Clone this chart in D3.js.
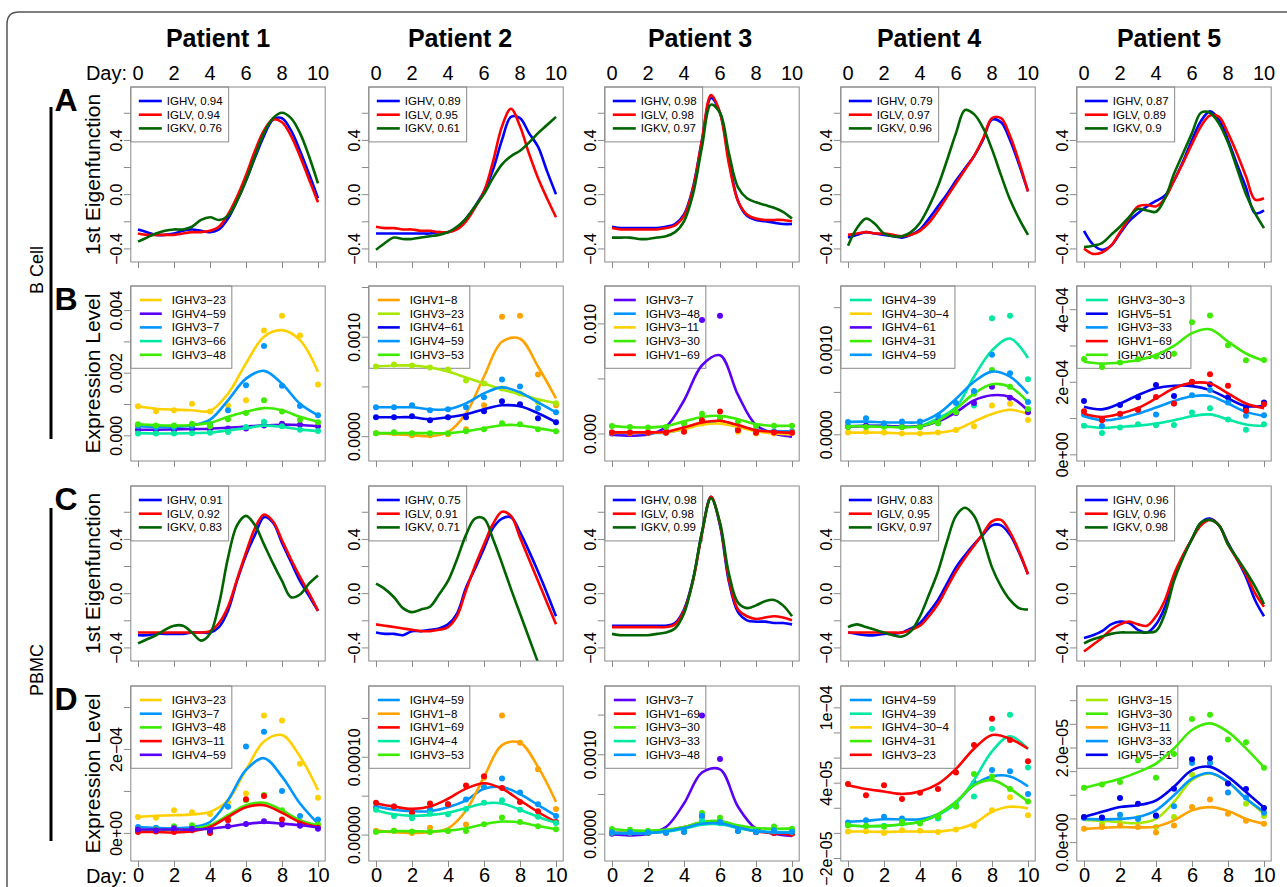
<!DOCTYPE html>
<html>
<head>
<meta charset="utf-8">
<script src="https://cdn.jsdelivr.net/npm/d3@7"></script>
<style>
	body { margin: 0; background: #fff; }
	svg { display: block; font-family: "Liberation Sans", Arial, Helvetica, sans-serif; }
</style>
</head>
<body>
<script>

// 1. Data

const patients = ["Patient 1", "Patient 2", "Patient 3", "Patient 4", "Patient 5"];
const days = d3.range(0, 11);
const halfDays = d3.range(0, 10.01, 0.5);
const dayTicks = [0, 2, 4, 6, 8, 10];

const eigNames = ["IGHV", "IGLV", "IGKV"];
const bEigR = [["0.94", "0.94", "0.76"], ["0.89", "0.95", "0.61"], ["0.98", "0.98", "0.97"], ["0.79", "0.97", "0.96"], ["0.87", "0.89", "0.9"]];
const pEigR = [["0.91", "0.92", "0.83"], ["0.75", "0.91", "0.71"], ["0.98", "0.98", "0.99"], ["0.83", "0.95", "0.97"], ["0.96", "0.96", "0.98"]];

// B cell, 1st eigenfunction (half-day grid)
const bEigIGHV = [
	[-0.26,-0.28,-0.30,-0.30,-0.29,-0.27,-0.26,-0.27,-0.28,-0.26,-0.18,-0.05,0.10,0.27,0.43,0.55,0.56,0.47,0.32,0.15,-0.03],
	[-0.29,-0.29,-0.29,-0.29,-0.29,-0.29,-0.29,-0.28,-0.28,-0.25,-0.18,-0.09,0.02,0.18,0.40,0.57,0.56,0.45,0.35,0.17,0.0],
	[-0.24,-0.25,-0.25,-0.25,-0.25,-0.25,-0.24,-0.22,-0.15,0.05,0.40,0.71,0.60,0.25,-0.05,-0.16,-0.19,-0.20,-0.21,-0.22,-0.22],
	[-0.32,-0.30,-0.28,-0.29,-0.30,-0.31,-0.32,-0.30,-0.26,-0.18,-0.09,0.0,0.10,0.19,0.28,0.40,0.55,0.53,0.40,0.22,0.02],
	[-0.27,-0.37,-0.41,-0.38,-0.29,-0.20,-0.14,-0.09,-0.05,-0.01,0.10,0.24,0.40,0.54,0.61,0.55,0.40,0.22,0.05,-0.14,-0.12]
];
const bEigIGLV = [
	[-0.29,-0.30,-0.30,-0.30,-0.30,-0.29,-0.28,-0.28,-0.27,-0.24,-0.15,-0.02,0.14,0.32,0.47,0.55,0.53,0.43,0.28,0.11,-0.06],
	[-0.24,-0.25,-0.25,-0.26,-0.26,-0.27,-0.27,-0.28,-0.28,-0.26,-0.20,-0.10,0.02,0.24,0.50,0.63,0.50,0.30,0.12,-0.03,-0.17],
	[-0.25,-0.26,-0.26,-0.26,-0.26,-0.26,-0.25,-0.23,-0.16,0.04,0.40,0.73,0.60,0.22,-0.05,-0.15,-0.18,-0.19,-0.19,-0.19,-0.20],
	[-0.30,-0.29,-0.28,-0.29,-0.29,-0.30,-0.31,-0.30,-0.27,-0.21,-0.12,-0.02,0.08,0.18,0.28,0.41,0.56,0.56,0.43,0.24,0.02],
	[-0.40,-0.44,-0.43,-0.38,-0.28,-0.18,-0.09,-0.08,-0.09,-0.03,0.10,0.23,0.37,0.50,0.58,0.57,0.45,0.30,0.13,-0.04,-0.03]
];
const bEigIGKV = [
	[-0.35,-0.32,-0.29,-0.27,-0.26,-0.26,-0.24,-0.19,-0.17,-0.19,-0.16,-0.05,0.10,0.28,0.45,0.56,0.60,0.56,0.45,0.28,0.08],
	[-0.41,-0.36,-0.32,-0.33,-0.33,-0.32,-0.31,-0.30,-0.28,-0.24,-0.18,-0.09,0.0,0.12,0.22,0.28,0.32,0.38,0.45,0.51,0.57],
	[-0.32,-0.32,-0.32,-0.33,-0.33,-0.32,-0.31,-0.28,-0.20,0.0,0.35,0.66,0.60,0.30,0.05,-0.03,-0.06,-0.08,-0.10,-0.13,-0.18],
	[-0.38,-0.25,-0.18,-0.22,-0.29,-0.31,-0.31,-0.28,-0.21,-0.09,0.06,0.25,0.45,0.62,0.59,0.49,0.33,0.14,-0.04,-0.18,-0.30],
	[-0.39,-0.38,-0.36,-0.30,-0.24,-0.17,-0.11,-0.12,-0.13,-0.03,0.15,0.30,0.45,0.60,0.60,0.52,0.38,0.19,0.0,-0.14,-0.25]
];

// PBMC, 1st eigenfunction (half-day grid)
const pEigIGHV = [
	[-0.31,-0.31,-0.30,-0.30,-0.30,-0.30,-0.29,-0.29,-0.29,-0.25,-0.13,0.09,0.28,0.43,0.56,0.52,0.37,0.23,0.09,-0.02,-0.13],
	[-0.29,-0.30,-0.30,-0.31,-0.28,-0.28,-0.27,-0.26,-0.23,-0.15,0.04,0.18,0.33,0.48,0.55,0.56,0.45,0.31,0.16,0.0,-0.17],
	[-0.24,-0.24,-0.24,-0.24,-0.24,-0.24,-0.24,-0.22,-0.12,0.10,0.45,0.71,0.50,0.08,-0.14,-0.20,-0.21,-0.21,-0.22,-0.22,-0.23],
	[-0.29,-0.30,-0.31,-0.31,-0.30,-0.30,-0.29,-0.26,-0.22,-0.14,-0.05,0.07,0.19,0.28,0.36,0.43,0.50,0.50,0.43,0.30,0.14],
	[-0.33,-0.31,-0.28,-0.23,-0.21,-0.22,-0.27,-0.29,-0.23,-0.10,0.12,0.27,0.40,0.52,0.55,0.50,0.37,0.25,0.12,-0.05,-0.17]
];
const pEigIGLV = [
	[-0.29,-0.29,-0.29,-0.29,-0.29,-0.29,-0.29,-0.29,-0.28,-0.22,-0.10,0.10,0.30,0.48,0.58,0.53,0.39,0.25,0.12,0.0,-0.13],
	[-0.23,-0.24,-0.25,-0.26,-0.27,-0.28,-0.28,-0.27,-0.25,-0.17,0.02,0.20,0.36,0.51,0.60,0.57,0.41,0.25,0.09,-0.07,-0.23],
	[-0.25,-0.25,-0.25,-0.25,-0.25,-0.25,-0.25,-0.23,-0.13,0.09,0.44,0.71,0.51,0.10,-0.12,-0.17,-0.19,-0.18,-0.17,-0.18,-0.20],
	[-0.29,-0.29,-0.29,-0.29,-0.29,-0.29,-0.29,-0.27,-0.24,-0.17,-0.08,0.04,0.16,0.26,0.35,0.44,0.53,0.54,0.45,0.31,0.14],
	[-0.43,-0.38,-0.33,-0.27,-0.23,-0.21,-0.23,-0.24,-0.17,-0.05,0.14,0.28,0.40,0.50,0.54,0.50,0.36,0.25,0.14,0.0,-0.10]
];
const pEigIGKV = [
	[-0.37,-0.34,-0.31,-0.27,-0.24,-0.24,-0.29,-0.35,-0.30,-0.08,0.26,0.50,0.57,0.50,0.36,0.22,0.09,-0.03,-0.01,0.07,0.13],
	[0.07,0.03,-0.03,-0.11,-0.14,-0.12,-0.10,-0.01,0.09,0.25,0.43,0.55,0.55,0.40,0.22,0.03,-0.15,-0.33,-0.51,-0.68,-0.85],
	[-0.30,-0.31,-0.31,-0.31,-0.31,-0.30,-0.29,-0.26,-0.15,0.10,0.45,0.70,0.52,0.14,-0.07,-0.11,-0.09,-0.06,-0.05,-0.09,-0.17],
	[-0.25,-0.23,-0.25,-0.27,-0.29,-0.31,-0.32,-0.28,-0.17,-0.01,0.16,0.38,0.57,0.63,0.57,0.40,0.19,0.05,-0.05,-0.11,-0.12],
	[-0.37,-0.34,-0.32,-0.30,-0.29,-0.29,-0.29,-0.29,-0.28,-0.15,0.09,0.26,0.40,0.52,0.54,0.50,0.36,0.26,0.16,0.05,-0.08]
];

// B cell, expression level of top genes
const bGenes = [
	["IGHV3−23", "IGHV4−59", "IGHV3−7", "IGHV3−66", "IGHV3−48"],
	["IGHV1−8", "IGHV3−23", "IGHV4−61", "IGHV4−59", "IGHV3−53"],
	["IGHV3−7", "IGHV3−48", "IGHV3−11", "IGHV3−30", "IGHV1−69"],
	["IGHV4−39", "IGHV4−30−4", "IGHV4−61", "IGHV4−31", "IGHV4−59"],
	["IGHV3−30−3", "IGHV5−51", "IGHV3−33", "IGHV1−69", "IGHV3−30"]
];
const bCurves = [
	[
		[0.00093,0.00085,0.00082,0.0008,0.00078,0.00133,0.0023,0.00315,0.00336,0.00304,0.00203],
		[0.00018,0.00018,0.00019,0.0002,0.00021,0.00024,0.00028,0.00032,0.00034,0.00033,0.00029],
		[0.00029,0.00027,0.00026,0.00032,0.0005,0.00112,0.00181,0.00206,0.00165,0.00101,0.00064],
		[0.00007,0.00006,0.00006,0.00007,0.00009,0.00016,0.00023,0.00031,0.00027,0.00019,0.00013],
		[0.00035,0.00032,0.00031,0.00033,0.0004,0.00059,0.00075,0.00087,0.0008,0.00059,0.00043]
	],
	[
		[0.00003,0.00002,0.00001,0.0,0.00004,0.00023,0.0006,0.00095,0.00098,0.0007,0.00038],
		[0.0007,0.00071,0.00071,0.00069,0.00065,0.00059,0.00053,0.00047,0.00042,0.00037,0.00033],
		[0.00019,0.00019,0.00019,0.00017,0.00019,0.00022,0.00027,0.00031,0.0003,0.00023,0.00014],
		[0.00029,0.00029,0.00029,0.00027,0.00027,0.00033,0.00043,0.00049,0.00044,0.00034,0.00024],
		[0.00003,0.00003,0.00003,0.00003,0.00003,0.00005,0.00008,0.00011,0.00011,0.00008,0.00005]
	],
	[
		[-0.0001,-0.0002,-0.0001,0.0006,0.003,0.0062,0.0071,0.0035,0.00076,0.0,-0.0003],
		[0.00005,0.00005,0.00005,0.00008,0.0004,0.0009,0.0011,0.0007,0.0003,0.0002,0.0002],
		[0.0001,0.0001,0.0001,0.0001,0.0004,0.0008,0.0009,0.0006,0.0002,0.0,-0.0001],
		[0.00067,0.00058,0.00055,0.00067,0.0011,0.0015,0.0016,0.0013,0.00085,0.0007,0.0007],
		[0.0001,0.0001,0.0001,0.00015,0.00055,0.001,0.00115,0.00076,0.0003,0.00015,0.00006]
	],
	[
		[0.000094,0.0001,0.0001,0.000087,0.0001,0.00019,0.00032,0.00068,0.00099,0.00113,0.0009],
		[0.00002,0.00002,0.00002,0.00001,0.00001,0.00002,0.000055,0.00015,0.00024,0.00029,0.00024],
		[0.000094,0.0001,0.0001,0.00009,0.000094,0.00015,0.00026,0.0004,0.00046,0.00044,0.00028],
		[0.000094,0.000094,0.00009,0.00008,0.000094,0.00016,0.0003,0.00048,0.00059,0.00056,0.00038],
		[0.000146,0.00015,0.00014,0.00014,0.000146,0.00024,0.00042,0.00062,0.00074,0.00068,0.00048]
	],
	[
		[7.8e-5,7.3e-5,7.6e-5,7.9e-5,8.5e-5,9.4e-5,1.05e-4,1.1e-4,9.6e-5,8.2e-5,7.8e-5],
		[1.31e-4,1.24e-4,1.4e-4,1.63e-4,1.82e-4,1.89e-4,1.88e-4,1.77e-4,1.54e-4,1.33e-4,1.34e-4],
		[1.05e-4,9.4e-5,9.9e-5,1.12e-4,1.29e-4,1.47e-4,1.6e-4,1.61e-4,1.4e-4,1.17e-4,1.06e-4],
		[1.12e-4,1.03e-4,1.12e-4,1.28e-4,1.54e-4,1.82e-4,1.97e-4,1.95e-4,1.68e-4,1.4e-4,1.27e-4],
		[2.55e-4,2.5e-4,2.53e-4,2.6e-4,2.74e-4,2.99e-4,3.34e-4,3.45e-4,3.11e-4,2.78e-4,2.58e-4]
	]
];
const bDots = [
	[
		[0.00093,0.00077,0.0008,0.00101,0.00076,0.00095,0.00112,0.00335,0.00382,0.00319,0.00162],
		[0.00018,0.00017,0.00018,0.0002,0.0002,0.00022,0.00022,0.00031,0.00037,0.00034,0.00029],
		[0.0003,0.00025,0.00026,0.0003,0.00035,0.0008,0.0016,0.00285,0.00158,0.00094,0.00064],
		[0.00006,0.00006,0.00006,0.00007,0.00008,0.00011,0.00027,0.00043,0.00029,0.00018,0.00014],
		[0.00035,0.00031,0.00031,0.00037,0.00029,0.00051,0.00071,0.00112,0.00076,0.0005,0.00042]
	],
	[
		[0.00003,0.00003,0.00001,0.00001,0.00002,0.00007,0.00031,0.0012,0.00121,0.00062,0.00031],
		[0.0007,0.00072,0.00071,0.00069,0.00067,0.00056,0.00053,0.00048,0.00043,0.00034,0.00033],
		[0.00019,0.00019,0.0002,0.00016,0.00019,0.00019,0.00025,0.00035,0.00032,0.00018,0.00014],
		[0.00029,0.00029,0.00031,0.00026,0.00027,0.00029,0.00039,0.00057,0.0005,0.00028,0.00024],
		[0.00003,0.00004,0.00003,0.00003,0.00003,0.00005,0.00007,0.00013,0.00012,0.00007,0.00005]
	],
	[
		[0.0,0.0001,0.0001,0.0002,0.0004,0.0103,0.0107,0.0006,0.0002,0.0001,0.0001],
		[0.0001,0.00005,0.00005,0.0001,0.0003,0.0011,0.0014,0.0005,0.0002,0.0002,0.0002],
		[0.0001,0.00005,0.0001,0.0001,0.0002,0.0009,0.0011,0.00015,0.0,0.0,0.0001],
		[0.00067,0.0006,0.00055,0.0006,0.0009,0.0018,0.0014,0.0011,0.00067,0.0007,0.0007],
		[0.0001,0.00006,0.00006,0.00006,0.00015,0.0012,0.002,0.0003,0.00006,0.0001,0.00006]
	],
	[
		[0.000094,0.0001,0.0001,0.000087,0.000094,0.00013,0.00026,0.00034,0.00137,0.0014,0.00065],
		[0.00002,0.00003,0.00002,0.00001,0.00001,0.00002,0.00005,0.000094,0.00034,0.00036,0.00017],
		[0.00009,0.0001,0.0001,0.00009,0.00009,0.00015,0.00025,0.00037,0.00056,0.00043,0.00026],
		[0.000087,0.000087,0.00009,0.000087,0.000087,0.00013,0.00026,0.00048,0.00076,0.00056,0.0003],
		[0.000146,0.00019,0.00013,0.00015,0.00015,0.00022,0.00037,0.00051,0.00094,0.00072,0.00038]
	],
	[
		[7.9e-5,5.9e-5,7.4e-5,8.3e-5,8e-5,8.1e-5,1.15e-4,1.27e-4,9.6e-5,6.8e-5,8.3e-5],
		[1.47e-4,9.7e-5,1.36e-4,1.57e-4,1.91e-4,1.61e-4,1.98e-4,1.93e-4,1.57e-4,1.26e-4,1.43e-4],
		[1.1e-4,7.8e-5,1.1e-4,1.23e-4,1.1e-4,1.4e-4,1.63e-4,1.77e-4,1.43e-4,1.06e-4,1.08e-4],
		[1.19e-4,9.4e-5,1.12e-4,1.23e-4,1.58e-4,1.4e-4,2.0e-4,2.21e-4,1.89e-4,1.2e-4,1.38e-4],
		[2.63e-4,2.41e-4,2.53e-4,2.62e-4,2.7e-4,2.77e-4,3.64e-4,3.83e-4,3.01e-4,2.59e-4,2.6e-4]
	]
];

// PBMC, expression level of top genes
const pGenes = [
	["IGHV3−23", "IGHV3−7", "IGHV3−48", "IGHV3−11", "IGHV4−59"],
	["IGHV4−59", "IGHV1−8", "IGHV1−69", "IGHV4−4", "IGHV3−53"],
	["IGHV3−7", "IGHV1−69", "IGHV3−30", "IGHV3−33", "IGHV3−48"],
	["IGHV4−59", "IGHV4−39", "IGHV4−30−4", "IGHV4−31", "IGHV3−23"],
	["IGHV3−15", "IGHV3−30", "IGHV3−11", "IGHV3−33", "IGHV5−51"]
];
const pCurves = [
	[
		[3.8e-5,4.1e-5,4.2e-5,4.4e-5,5.0e-5,7.8e-5,1.5e-4,2.18e-4,2.33e-4,1.82e-4,1.02e-4],
		[1.4e-5,1.2e-5,1.1e-5,1.4e-5,2.6e-5,7.8e-5,1.5e-4,1.78e-4,1.34e-4,7e-5,2.2e-5],
		[8e-6,7e-6,8e-6,1e-5,1.8e-5,4.2e-5,6.6e-5,7.2e-5,5.4e-5,3e-5,1.8e-5],
		[2e-6,2e-6,1e-6,4e-6,1.4e-5,3.8e-5,6.1e-5,6.6e-5,4.8e-5,2.6e-5,1.4e-5],
		[8e-6,8e-6,8e-6,8e-6,1e-5,1.5e-5,2.1e-5,2.5e-5,2.2e-5,1.8e-5,1.3e-5]
	],
	[
		[3.6e-5,3.2e-5,3.0e-5,3.0e-5,3.5e-5,4.4e-5,5.9e-5,6.1e-5,5.2e-5,3.8e-5,2.4e-5],
		[5e-6,3e-6,2e-6,3e-6,8e-6,3.1e-5,7.4e-5,1.15e-4,1.18e-4,8.7e-5,4.2e-5],
		[4e-5,3.6e-5,3.3e-5,3.6e-5,4.6e-5,5.9e-5,6.6e-5,5.9e-5,4.4e-5,2.9e-5,1.6e-5],
		[3.1e-5,2.6e-5,2.4e-5,2.5e-5,2.8e-5,3.4e-5,4.0e-5,4.0e-5,3.2e-5,2.3e-5,1.5e-5],
		[3.4e-6,4.3e-6,4.3e-6,3.9e-6,5.1e-6,8.2e-6,1.33e-5,1.67e-5,1.54e-5,1.1e-5,6.9e-6]
	],
	[
		[-8e-6,-2.1e-5,0,8.4e-5,3.8e-4,7.7e-4,8.1e-4,3.4e-4,6.3e-5,0,-2.9e-5],
		[1.3e-5,1.3e-5,1.7e-5,4.2e-5,8.4e-5,1.39e-4,1.47e-4,8.4e-5,2.9e-5,8e-6,-1.3e-5],
		[5.5e-5,4.2e-5,3.8e-5,5e-5,8.4e-5,1.47e-4,1.6e-4,1.05e-4,7.1e-5,6.3e-5,6.7e-5],
		[1.3e-5,8e-6,8e-6,2.5e-5,6.3e-5,1.13e-4,1.18e-4,7.1e-5,3.4e-5,2.1e-5,2.1e-5],
		[8e-6,4e-6,8e-6,2.9e-5,7.1e-5,1.26e-4,1.3e-4,7.6e-5,3.4e-5,1.7e-5,1.3e-5]
	],
	[
		[8.8e-6,9.6e-6,1.09e-5,1.07e-5,1.09e-5,1.49e-5,2.48e-5,3.8e-5,4.5e-5,4.5e-5,3.7e-5],
		[6.1e-6,5.3e-6,5.6e-6,6.7e-6,8.8e-6,1.41e-5,2.35e-5,4.2e-5,6.5e-5,7.7e-5,6.7e-5],
		[1.1e-6,1.1e-6,0.8e-6,1.1e-6,1.1e-6,1.1e-6,2.9e-6,7.5e-6,1.68e-5,2.08e-5,1.95e-5],
		[6.1e-6,5.3e-6,5.6e-6,6.7e-6,8.8e-6,1.49e-5,2.48e-5,3.8e-5,4.2e-5,3.5e-5,2.5e-5],
		[3.8e-5,3.5e-5,3.3e-5,3.1e-5,3.3e-5,3.9e-5,5.1e-5,6.7e-5,7.8e-5,7.5e-5,6.7e-5]
	],
	[
		[4.7e-6,4.5e-6,4.2e-6,4.0e-6,4.9e-6,8.5e-6,1.31e-5,1.45e-5,1.27e-5,9.2e-6,6.0e-6],
		[1.15e-5,1.24e-5,1.34e-5,1.48e-5,1.66e-5,1.98e-5,2.37e-5,2.51e-5,2.33e-5,1.98e-5,1.58e-5],
		[2.8e-6,3.0e-6,3.2e-6,3.1e-6,3.3e-6,4.6e-6,6.7e-6,7.4e-6,6.6e-6,4.9e-6,3.9e-6],
		[4.9e-6,4.8e-6,4.9e-6,5.3e-6,6.7e-6,9.9e-6,1.34e-5,1.46e-5,1.27e-5,9.2e-6,6.4e-6],
		[5.3e-6,6.4e-6,7.4e-6,7.8e-6,8.8e-6,1.17e-5,1.52e-5,1.59e-5,1.38e-5,1.06e-5,7.3e-6]
	]
];
const pDots = [
	[
		[3.8e-5,3.6e-5,5.4e-5,4.9e-5,4.5e-5,7.3e-5,9.4e-5,2.8e-4,2.68e-4,1.65e-4,8.4e-5],
		[1.4e-5,1.2e-5,1.3e-5,1.4e-5,1.4e-5,6.2e-5,2.06e-4,2.41e-4,1.0e-4,4e-5,3.2e-5],
		[8e-6,8e-6,1.6e-5,1.8e-5,1e-6,3.8e-5,7.8e-5,9e-5,5.4e-5,2.6e-5,2e-5],
		[2e-6,3e-6,2e-6,6e-6,0,3e-5,8e-5,8.8e-5,3.2e-5,2.2e-5,1.2e-5],
		[8e-6,6e-6,1.1e-5,1e-5,5e-6,1.6e-5,2.1e-5,2.8e-5,2e-5,1.7e-5,1e-5]
	],
	[
		[3.5e-5,3.6e-5,2.9e-5,3.3e-5,3.9e-5,4.5e-5,6.1e-5,7.2e-5,5.4e-5,3.9e-5,2.4e-5],
		[5e-6,5e-6,2e-6,8.6e-6,5e-6,1.3e-5,7.3e-5,1.53e-4,1.18e-4,8.4e-5,3.3e-5],
		[4.1e-5,3.6e-5,2.8e-5,4e-5,3.9e-5,6.3e-5,7.5e-5,6e-5,4.2e-5,3e-5,1.6e-5],
		[3.2e-5,2.4e-5,2.1e-5,2.7e-5,2.6e-5,3.3e-5,4.1e-5,4.4e-5,3.2e-5,2.3e-5,1.5e-5],
		[3.4e-6,5e-6,3.9e-6,3.4e-6,4.7e-6,4.5e-6,1.33e-5,2.2e-5,1.63e-5,1.07e-5,6.9e-6]
	],
	[
		[0,1e-5,1e-5,2e-5,3e-5,1.49e-3,9.4e-4,4e-5,2e-5,1e-5,1e-5],
		[1.3e-5,1.3e-5,1.3e-5,1.3e-5,2.5e-5,2.2e-4,1.5e-4,4e-5,2e-5,1e-5,0],
		[5.9e-5,5e-5,3.8e-5,2e-5,3e-5,2.6e-4,2e-4,4.2e-5,3.4e-5,9.2e-5,6.3e-5],
		[1.3e-5,1.3e-5,1.3e-5,1.7e-5,2.5e-5,1.68e-4,1.3e-4,4e-5,3e-5,3e-5,2.5e-5],
		[1.7e-5,1.7e-5,1.7e-5,1.3e-5,2.5e-5,2.27e-4,1.47e-4,3.4e-5,2.1e-5,4.2e-5,2.5e-5]
	],
	[
		[8.3e-6,1.0e-5,1.28e-5,1.15e-5,8.8e-6,1.28e-5,2.2e-5,4.0e-5,5.0e-5,4.9e-5,3.1e-5],
		[6.1e-6,5.3e-6,5.6e-6,7.5e-6,8e-6,1.15e-5,2.1e-5,2.9e-5,8.3e-5,9.4e-5,5.2e-5],
		[1.1e-6,1.3e-6,0,2.1e-6,1.6e-6,0.8e-6,2.7e-6,5.6e-6,1.81e-5,2.83e-5,1.41e-5],
		[6.1e-6,5.6e-6,4.8e-6,8.8e-6,7.5e-6,1.28e-5,2.1e-5,4.7e-5,4.5e-5,3.5e-5,2.5e-5],
		[3.9e-5,3.0e-5,3.8e-5,2.7e-5,3.2e-5,3.5e-5,4.8e-5,7.0e-5,9.1e-5,7.4e-5,5.7e-5]
	],
	[
		[5.3e-6,3.9e-6,5e-6,5.1e-6,3.2e-6,5.3e-6,1.43e-5,1.67e-5,1.24e-5,8.1e-6,5.5e-6],
		[1.15e-5,1.22e-5,1.27e-5,1.73e-5,1.36e-5,1.86e-5,2.6e-5,2.69e-5,2.17e-5,2.11e-5,1.57e-5],
		[2.8e-6,3.2e-6,3.5e-6,3.2e-6,2.0e-6,3.5e-6,7.4e-6,9.0e-6,6.0e-6,4.5e-6,3.9e-6],
		[5.1e-6,5.1e-6,5.8e-6,4.9e-6,5.5e-6,7.6e-6,1.67e-5,1.67e-5,1.05e-5,9.4e-6,6.2e-6],
		[5.3e-6,5.2e-6,9.3e-6,8.1e-6,5.6e-6,1.13e-5,1.75e-5,1.77e-5,1.24e-5,1.12e-5,7.2e-6]
	]
];

// y axes of the expression panels
const bYDom = [[-0.00082, 0.00477], [-0.00025, 0.00151], [-0.0025, 0.0134], [-0.000315, 0.00175], [-0.0000184, 0.000464]];
const bYTicks = [[0, 0.001, 0.002, 0.003, 0.004], [0, 0.0005, 0.001, 0.0015], [0, 0.005, 0.01], [0, 0.0005, 0.001, 0.0015], [0, 1e-4, 2e-4, 3e-4, 4e-4]];
const bYLabels = [["0.000", "", "0.002", "", "0.004"], ["0.0000", "", "0.0010", ""], ["0.000", "", "0.010"], ["0.0000", "", "0.0010", ""], ["0e+00", "", "2e−04", "", "4e−04"]];
const pYDom = [[-6.7e-5, 3.5e-4], [-3.4e-5, 1.91e-4], [-0.000344, 0.00186], [-2.24e-5, 1.17e-4], [-4.0e-6, 3.3e-5]];
const pYTicks = [[0, 1e-4, 2e-4, 3e-4], [0, 5e-5, 1e-4, 1.5e-4], [0, 5e-4, 1e-3, 1.5e-3], [-2e-5, 0, 2e-5, 4e-5, 6e-5, 8e-5, 1e-4], [0, 5e-6, 1e-5, 1.5e-5, 2e-5, 2.5e-5, 3e-5]];
const pYLabels = [["0e+00", "", "2e−04", ""], ["0.00000", "", "0.00010", ""], ["0.0000", "", "0.0010", ""], ["−2e−05", "", "", "4e−05", "", "", "1e−04"], ["0.0e+00", "", "", "", "2.0e−05", "", ""]];

const eigYDom = [-0.5, 0.79];
const eigYTicks = [-0.4, -0.2, 0, 0.2, 0.4, 0.6];
const eigYLabels = ["−0.4", "", "0.0", "", "0.4", ""];

// 2. Styles

const pal = {
	yellow: "#FFD000", purple: "#5A00F5", sky: "#0096FF", aqua: "#00E8A2", green: "#3DEB00",
	orange: "#FFA200", ygreen: "#A8E800", blue: "#0000EE", red: "#FF0000"
};
const eigColors = ["#0000FF", "#FF0000", "#006400"];
const bGeneColors = [
	["yellow", "purple", "sky", "aqua", "green"],
	["orange", "ygreen", "blue", "sky", "green"],
	["purple", "sky", "yellow", "green", "red"],
	["aqua", "yellow", "purple", "green", "sky"],
	["aqua", "blue", "sky", "red", "green"]
];
const pGeneColors = [
	["yellow", "sky", "green", "red", "purple"],
	["sky", "orange", "red", "aqua", "green"],
	["purple", "red", "green", "aqua", "sky"],
	["sky", "aqua", "yellow", "green", "red"],
	["ygreen", "green", "orange", "sky", "blue"]
];

const frameGrey = "#8a8a8a";

// 3. Dimensions

const width = 1287, height = 887;
const dayX0 = [138, 376, 612, 848, 1084];
const rowTop = [87, 286, 486, 686];
const boxH = 175;
const titleX = [218, 460, 700, 929, 1169];

const svg = d3.select("body")
	.append("svg")
	.attr("width", width)
	.attr("height", height);

svg.append("rect").attr("width", width).attr("height", height).attr("fill", "#fff");

svg.append("path")
	.attr("d", `M7,${height}V24Q7,12 19,12H${width}`)
	.attr("fill", "none")
	.attr("stroke", "#555")
	.attr("stroke-width", 1.5);

// 4. Titles and side labels

svg.selectAll(".title")
	.data(patients)
	.join("text")
	.attr("class", "title")
	.attr("x", (d, i) => titleX[i])
	.attr("y", 47)
	.attr("text-anchor", "middle")
	.attr("font-size", 25)
	.attr("font-weight", "bold")
	.text(d => d);

["A", "B", "C", "D"].forEach((l, r) => {
	svg.append("text")
		.attr("x", 66).attr("y", rowTop[r] + 24)
		.attr("text-anchor", "middle")
		.attr("font-size", 32).attr("font-weight", "bold")
		.text(l);
	svg.append("text")
		.attr("transform", `translate(100, ${rowTop[r] + boxH / 2}) rotate(-90)`)
		.attr("text-anchor", "middle")
		.attr("font-size", 21)
		.text(r % 2 === 0 ? "1st Eigenfunction" : "Expression Level");
});

[["B Cell", 107, 439, 270], ["PBMC", 508, 841, 670]].forEach(([t, y1, y2, yc]) => {
	svg.append("line")
		.attr("x1", 51).attr("x2", 51).attr("y1", y1).attr("y2", y2)
		.attr("stroke", "#000").attr("stroke-width", 3);
	svg.append("text")
		.attr("transform", `translate(43, ${yc}) rotate(-90)`)
		.attr("text-anchor", "middle")
		.attr("font-size", 18)
		.text(t);
});

// 5. Panels

function drawPanel(r, c) {
	const top = rowTop[r];
	const x0 = dayX0[c];
	const isEig = r % 2 === 0;
	const pbmc = r >= 2;

	const xScale = d3.scaleLinear().domain([-0.4, 10.4]).range([x0 - 7.2, x0 + 187.2]);
	const left = xScale.range()[0], right = xScale.range()[1];

	const yDom = isEig ? eigYDom : (pbmc ? pYDom : bYDom)[c];
	const yTicks = isEig ? eigYTicks : (pbmc ? pYTicks : bYTicks)[c];
	const yLabels = isEig ? eigYLabels : (pbmc ? pYLabels : bYLabels)[c];
	const yScale = d3.scaleLinear().domain(yDom).range([top + boxH, top]);

	const g = svg.append("g");
	const clipId = `clip-${r}-${c}`;
	g.append("clipPath").attr("id", clipId)
		.append("rect")
		.attr("x", left).attr("y", top)
		.attr("width", right - left).attr("height", boxH);

	// axes
	const yAxis = g.append("g")
		.attr("transform", `translate(${left},0)`)
		.call(d3.axisLeft(yScale).tickValues(yTicks).tickSize(7).tickFormat((d, i) => yLabels[i]));
	yAxis.attr("font-family", null).attr("font-size", null);
	yAxis.select(".domain").remove();
	yAxis.selectAll("line").attr("stroke", frameGrey);
	yAxis.selectAll("text")
		.attr("x", null).attr("dy", null)
		.attr("transform", "translate(-9,0) rotate(-90)")
		.attr("text-anchor", "middle")
		.attr("font-size", 16)
		.attr("fill", "#000");

	const xAxis = g.append("g")
		.attr("transform", `translate(0,${top + boxH})`)
		.call(d3.axisBottom(xScale).tickValues(dayTicks).tickSize(6).tickPadding(1).tickFormat(d => r === 3 ? d : ""));
	xAxis.attr("font-family", null).attr("font-size", null);
	xAxis.select(".domain").remove();
	xAxis.selectAll("line").attr("stroke", frameGrey);
	xAxis.selectAll("text").attr("font-size", 20).attr("fill", "#000");

	// legend
	let entries, colors;
	if (isEig) {
		const rs = (pbmc ? pEigR : bEigR)[c];
		entries = eigNames.map((n, k) => `${n}, ${rs[k]}`);
		colors = eigColors;
	} else {
		entries = (pbmc ? pGenes : bGenes)[c];
		colors = (pbmc ? pGeneColors : bGeneColors)[c].map(k => pal[k]);
	}
	const legend = g.append("g");
	const textX = left + (isEig ? 36 : 41);
	entries.forEach((t, k) => {
		const ly = top + 14 + k * 13.7;
		legend.append("line")
			.attr("x1", left + (isEig ? 8 : 9)).attr("x2", left + 31)
			.attr("y1", ly).attr("y2", ly)
			.attr("stroke", colors[k]).attr("stroke-width", 2.6);
		legend.append("text")
			.attr("x", textX).attr("y", ly).attr("dy", "0.35em")
			.attr("font-size", 11.5)
			.text(t);
	});
	const maxW = d3.max(legend.selectAll("text").nodes(), n => n.getComputedTextLength());
	legend.insert("rect", "line")
		.attr("x", left).attr("y", top)
		.attr("width", textX - left + maxW + 6)
		.attr("height", 14 + (entries.length - 1) * 13.7 + 13.5)
		.attr("fill", "none")
		.attr("stroke", frameGrey);

	// marks
	const plot = g.append("g").attr("clip-path", `url(#${clipId})`);
	if (isEig) {
		const sets = pbmc ? [pEigIGHV, pEigIGLV, pEigIGKV] : [bEigIGHV, bEigIGLV, bEigIGKV];
		const lineGen = d3.line()
			.x((d, i) => xScale(halfDays[i]))
			.y(d => yScale(d))
			.curve(d3.curveCatmullRom.alpha(0.5));
		sets.forEach((s, k) => {
			plot.append("path")
				.attr("d", lineGen(s[c]))
				.attr("fill", "none")
				.attr("stroke", eigColors[k])
				.attr("stroke-width", 2.6);
		});
	} else {
		const curves = (pbmc ? pCurves : bCurves)[c];
		const dots = (pbmc ? pDots : bDots)[c];
		const lineGen = d3.line()
			.x((d, i) => xScale(days[i]))
			.y(d => yScale(d))
			.curve(d3.curveCatmullRom.alpha(0.5));
		curves.forEach((cv, k) => {
			plot.selectAll(null)
				.data(dots[k])
				.join("circle")
				.attr("cx", (d, i) => xScale(days[i]))
				.attr("cy", d => yScale(d))
				.attr("r", 3)
				.attr("fill", colors[k]);
			plot.append("path")
				.attr("d", lineGen(cv))
				.attr("fill", "none")
				.attr("stroke", colors[k])
				.attr("stroke-width", 2.6);
		});
	}

	g.append("rect")
		.attr("x", left).attr("y", top)
		.attr("width", right - left).attr("height", boxH)
		.attr("fill", "none")
		.attr("stroke", frameGrey);

	// top day labels
	if (r === 0) {
		g.selectAll(".topday")
			.data(dayTicks)
			.join("text")
			.attr("x", d => xScale(d))
			.attr("y", 80)
			.attr("text-anchor", "middle")
			.attr("font-size", 20)
			.text(d => d);
	}
	if (c === 0 && (r === 0 || r === 3)) {
		g.append("text")
			.attr("x", xScale(0) - 11)
			.attr("y", r === 0 ? 80 : top + boxH + 21.5)
			.attr("text-anchor", "end")
			.attr("font-size", 20)
			.text("Day:");
	}
}

for (let r = 0; r < 4; r++) {
	for (let c = 0; c < 5; c++) {
		drawPanel(r, c);
	}
}

</script>
</body>
</html>
